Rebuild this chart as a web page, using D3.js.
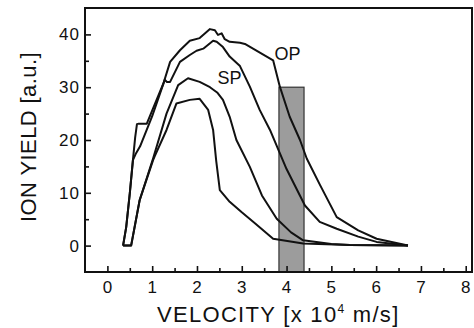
<!DOCTYPE html>
<html>
<head>
<meta charset="utf-8">
<script src="https://cdn.jsdelivr.net/npm/d3@7"></script>
<style>
  body { margin: 0; background: #fff; }
  .axis path { display: none; }
  .axis line { stroke: #111; stroke-width: 1.6px; }
  .axis text { font-family: "Liberation Sans", Arial, sans-serif; font-size: 17px; fill: #111; letter-spacing: 1px; }
</style>
</head>
<body>
<div id="chart"></div>
<script>
// data
var xTicks = [0, 1, 2, 3, 4, 5, 6, 7, 8];
var yTicks = [0, 10, 20, 30, 40];

// top curve (OP)
var opVel = [0.35, 0.42, 0.50, 0.57, 0.62, 0.66, 0.70, 0.88, 1.02, 1.25, 1.40, 1.62, 1.84, 2.06, 2.29, 2.40, 2.47, 2.55, 2.62, 2.73, 2.96, 3.07, 3.70, 3.85, 4.07, 4.30, 4.45, 4.74, 5.12, 5.60, 6.01, 6.71];
var opYield = [0, 3.5, 9.9, 16.2, 20.5, 23.0, 23.1, 23.1, 26.0, 30.7, 34.8, 37.0, 38.8, 39.3, 41.0, 40.8, 39.9, 40.2, 39.1, 38.6, 38.4, 38.2, 35.1, 30.1, 24.4, 20.0, 16.5, 11.6, 5.4, 2.9, 1.3, 0];

// second curve
var c2Vel = [0.35, 0.42, 0.50, 0.57, 0.64, 0.73, 1.00, 1.28, 1.33, 1.40, 1.62, 1.84, 1.99, 2.14, 2.36, 2.44, 2.58, 2.73, 2.96, 3.18, 3.40, 3.63, 4.00, 4.41, 4.74, 5.12, 5.60, 6.01, 6.71];
var c2Yield = [0, 3.5, 9.9, 16.2, 17.5, 18.8, 24.5, 31.4, 31.0, 31.0, 34.8, 36.1, 36.9, 37.3, 38.8, 38.6, 37.6, 35.8, 34.0, 30.1, 25.7, 21.9, 14.5, 7.6, 4.5, 3.2, 1.7, 0.7, 0];

// SP curve
var spVel = [0.35, 0.53, 0.72, 1.02, 1.32, 1.58, 1.80, 2.06, 2.29, 2.45, 2.58, 2.73, 2.88, 3.18, 3.45, 3.78, 4.10, 4.37, 5.00, 5.41, 6.71];
var spYield = [0, 0, 8.6, 16.5, 25.0, 30.4, 31.7, 31.0, 30.0, 29.0, 27.6, 24.4, 20.0, 14.9, 9.5, 5.1, 2.5, 1.0, 0.3, 0.1, 0];

// lowest curve
var c4Vel = [0.35, 0.53, 0.72, 1.02, 1.06, 1.32, 1.54, 1.84, 2.06, 2.25, 2.36, 2.43, 2.51, 2.73, 3.00, 3.30, 3.70, 4.37, 5.41, 6.71];
var c4Yield = [0, 0, 8.6, 16.2, 17.0, 21.9, 26.9, 27.6, 27.8, 25.7, 21.9, 16.0, 10.5, 8.3, 6.3, 4.2, 1.3, 0.4, 0.1, 0];

// shaded velocity window
var bandVel = [3.83, 4.39];
var bandYield = [-5, 30];

var svgWidth = 474;
var svgHeight = 328;
var margin = { top: 8, right: 2, bottom: 56, left: 85 };
var width = svgWidth - margin.left - margin.right;
var height = svgHeight - margin.top - margin.bottom;

var svg = d3.select("#chart")
  .append("svg")
  .attr("width", svgWidth)
  .attr("height", svgHeight);

var g = svg.append("g")
  .attr("transform", `translate(${margin.left}, ${margin.top})`);

var x = d3.scaleLinear().domain([-0.5, 8.14]).range([0, width]);
var y = d3.scaleLinear().domain([-5, 45]).range([height, 0]);

// gray band
g.append("rect")
  .attr("x", x(bandVel[0]))
  .attr("y", y(bandYield[1]))
  .attr("width", x(bandVel[1]) - x(bandVel[0]))
  .attr("height", y(bandYield[0]) - y(bandYield[1]))
  .attr("fill", "#9c9c9c")
  .attr("stroke", "#333")
  .attr("stroke-width", 1.2);

// curves
var line = d3.line()
  .x(d => x(d[0]))
  .y(d => y(d[1]));

var curves = [
  d3.zip(opVel, opYield),
  d3.zip(c2Vel, c2Yield),
  d3.zip(spVel, spYield),
  d3.zip(c4Vel, c4Yield)
];

g.selectAll(".curve")
  .data(curves)
  .enter()
  .append("path")
  .attr("class", "curve")
  .attr("d", line)
  .attr("fill", "none")
  .attr("stroke", "#111")
  .attr("stroke-width", 2)
  .attr("stroke-linejoin", "round");

// minor ticks
var xMinor = d3.range(-0.5, 8.01, 0.5).filter(v => v % 1 !== 0);
var yMinor = [-5, 5, 15, 25, 35];

g.append("g")
  .attr("class", "axis")
  .attr("transform", `translate(0, ${height})`)
  .call(d3.axisBottom(x).tickValues(xMinor.filter(v => v > -0.5)).tickSize(-4).tickFormat(""));

g.append("g")
  .attr("class", "axis")
  .call(d3.axisLeft(y).tickValues(yMinor.filter(v => v > -5)).tickSize(-4).tickFormat(""));

// major ticks
g.append("g")
  .attr("class", "axis")
  .attr("transform", `translate(0, ${height})`)
  .call(d3.axisBottom(x).tickValues(xTicks).tickSize(-6).tickPadding(9).tickFormat(d3.format("d")));

g.append("g")
  .attr("class", "axis")
  .call(d3.axisLeft(y).tickValues(yTicks).tickSize(-6).tickPadding(5).tickFormat(d3.format("d")));

// frame
g.append("rect")
  .attr("x", 0)
  .attr("y", 0)
  .attr("width", width)
  .attr("height", height)
  .attr("fill", "none")
  .attr("stroke", "#111")
  .attr("stroke-width", 2);

// curve labels
g.append("text")
  .attr("x", x(2.46))
  .attr("y", y(30.6))
  .attr("font-family", "Liberation Sans, Arial, sans-serif")
  .attr("font-size", "18px")
  .attr("fill", "#111")
  .text("SP");

g.append("text")
  .attr("x", x(3.73))
  .attr("y", y(35.2))
  .attr("font-family", "Liberation Sans, Arial, sans-serif")
  .attr("font-size", "18px")
  .attr("fill", "#111")
  .text("OP");

// axis titles
var xTitle = svg.append("text")
  .attr("x", 157)
  .attr("y", 322)
  .attr("font-family", "Liberation Sans, Arial, sans-serif")
  .attr("font-size", "22px")
  .attr("letter-spacing", "1.3px")
  .attr("fill", "#111");
xTitle.append("tspan").text("VELOCITY [x 10");
xTitle.append("tspan").attr("font-size", "12px").attr("dy", -9).text("4");
xTitle.append("tspan").attr("dy", 9).text(" m/s]");

svg.append("text")
  .attr("transform", "translate(36, 137) rotate(-90)")
  .attr("text-anchor", "middle")
  .attr("font-family", "Liberation Sans, Arial, sans-serif")
  .attr("font-size", "22px")
  .attr("letter-spacing", "0.4px")
  .attr("fill", "#111")
  .text("ION YIELD [a.u.]");
</script>
</body>
</html>
